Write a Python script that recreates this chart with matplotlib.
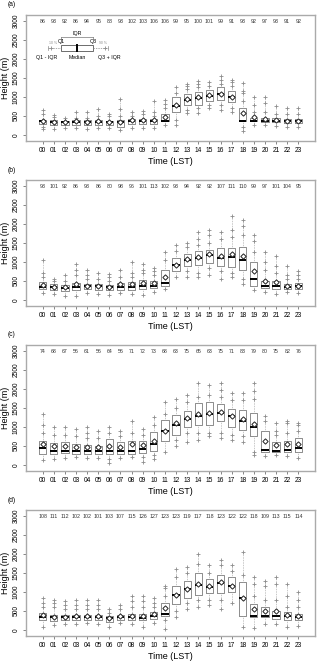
import numpy as np
import matplotlib
matplotlib.use("Agg")
import matplotlib.pyplot as plt

plt.rcParams["font.family"] = ["Liberation Sans", "DejaVu Sans"]

hours = ["%02d" % h for h in range(24)]

# pocty mereni nad kazdym boxem
counts_a = [86, 93, 92, 86, 94, 95, 88, 93, 102, 103, 106, 106, 99, 95, 100, 101, 99, 91, 93, 92, 97, 93, 91, 92]
counts_b = [93, 101, 92, 86, 93, 86, 80, 98, 96, 101, 113, 102, 93, 94, 92, 92, 107, 111, 110, 99, 97, 101, 104, 95]
counts_c = [74, 68, 67, 56, 61, 56, 64, 56, 71, 72, 73, 68, 63, 75, 65, 63, 75, 71, 83, 79, 80, 75, 82, 76]
counts_d = [108, 111, 112, 102, 102, 101, 103, 107, 115, 126, 127, 123, 123, 119, 117, 118, 123, 122, 122, 118, 109, 113, 115, 114]

# (a)
q1_a = [290, 260, 250, 260, 250, 260, 260, 220, 280, 290, 280, 370, 600, 780, 780, 900, 920, 880, 380, 370, 350, 330, 320, 320]
med_a = [370, 330, 330, 350, 340, 350, 340, 330, 380, 380, 370, 380, 770, 930, 980, 1020, 1080, 1010, 370, 380, 380, 370, 360, 370]
q3_a = [400, 390, 380, 400, 390, 390, 380, 400, 420, 420, 430, 560, 1000, 1080, 1130, 1180, 1250, 1150, 720, 450, 450, 440, 420, 430]
mean_a = [380, 340, 340, 360, 350, 360, 350, 340, 390, 390, 400, 470, 780, 940, 990, 1050, 1080, 1010, 580, 470, 420, 400, 370, 380]
plus_a = [[550, 650, 150, 220], [480, 530, 150], [450, 170], [440, 600, 180], [450, 600, 160], [500, 670, 170],
          [500, 560, 180], [500, 680, 950, 140], [500, 600, 180], [550, 620, 170], [500, 600, 900, 170],
          [700, 820, 920, 250], [1100, 1250, 250, 400], [1200, 1300, 1350, 580, 650], [1250, 1350, 1430, 580, 700],
          [1300, 1400, 700, 800], [1350, 1450, 1560, 650, 800], [1300, 1400, 1450, 600, 700],
          [900, 1100, 1150, 1380, 100, 200], [600, 800, 1000, 250], [600, 850, 1000, 250], [550, 750, 230],
          [550, 700, 200], [550, 700, 200]]

# (b)
q1_b = [280, 260, 240, 270, 280, 270, 250, 270, 270, 290, 320, 380, 750, 900, 920, 980, 900, 880, 780, 380, 320, 280, 280, 280]
med_b = [340, 340, 320, 340, 360, 360, 330, 350, 340, 380, 380, 450, 930, 1040, 1100, 1180, 1100, 1120, 1040, 560, 380, 380, 340, 360]
q3_b = [460, 420, 400, 450, 420, 410, 400, 450, 470, 530, 500, 800, 1100, 1200, 1300, 1320, 1380, 1380, 1400, 1000, 500, 490, 420, 440]
mean_b = [400, 350, 340, 420, 380, 370, 350, 420, 410, 440, 440, 600, 930, 1070, 1130, 1200, 1170, 1200, 1150, 760, 500, 470, 380, 380]
plus_b = [[600, 700, 1050, 180], [500, 550, 150], [500, 650, 100], [650, 780, 950, 100], [550, 650, 780, 180],
          [550, 700, 160], [500, 600, 680, 130], [600, 800, 180], [600, 700, 1000, 150], [700, 800, 950, 120],
          [650, 750, 850, 200], [1050, 1250, 280], [1300, 1450, 600], [1400, 1500, 600, 750],
          [1450, 1600, 1800, 600, 700], [1500, 1700, 1850, 650, 850], [1600, 1800, 550, 750],
          [1650, 1850, 2200, 600, 700], [1700, 1950, 2100, 420, 550], [1250, 1550, 1700, 250],
          [800, 1000, 1250, 200], [700, 900, 1150, 150], [550, 650, 900, 200], [550, 650, 750, 180]]

# (c)
q1_c = [300, 300, 310, 280, 300, 300, 300, 280, 300, 310, 380, 620, 800, 1000, 1050, 1050, 1150, 1000, 930, 750, 350, 330, 340, 340]
med_c = [440, 380, 380, 360, 380, 370, 370, 370, 380, 420, 560, 900, 1050, 1220, 1300, 1350, 1370, 1300, 1160, 1000, 400, 380, 390, 440]
q3_c = [620, 580, 600, 540, 520, 510, 680, 600, 640, 620, 860, 1180, 1320, 1430, 1620, 1650, 1600, 1480, 1440, 1360, 900, 600, 620, 710]
mean_c = [550, 500, 500, 480, 470, 470, 500, 480, 550, 520, 640, 900, 1100, 1240, 1330, 1380, 1390, 1300, 1200, 1090, 620, 520, 560, 550]
plus_c = [[850, 1050, 1350, 120], [800, 1000, 150], [800, 1000, 180], [750, 950, 200], [700, 850, 1000, 180],
          [700, 900, 180], [850, 1000, 50, 150], [750, 900, 180], [850, 1150, 200], [800, 950, 80, 200],
          [1050, 1250, 150, 250], [1350, 1650, 350], [1500, 1750, 500, 650], [1650, 1850, 600, 850],
          [1800, 2150, 650, 850], [1850, 2100, 750, 850], [1800, 1980, 2150, 700, 850], [1700, 1900, 650, 800],
          [1700, 1900, 600, 750], [1750, 1950, 2150, 250, 350], [1150, 1300, 230], [800, 900, 1100, 250],
          [850, 1100, 1150, 230], [900, 1050, 1100, 170]]

# (d)
q1_d = [250, 240, 250, 260, 260, 260, 220, 260, 260, 250, 290, 380, 690, 840, 920, 960, 980, 1000, 380, 340, 350, 300, 250, 260]
med_d = [350, 340, 330, 340, 340, 340, 310, 340, 340, 320, 370, 420, 920, 1080, 1180, 1130, 1240, 1150, 850, 370, 380, 380, 360, 350]
q3_d = [440, 400, 390, 400, 400, 400, 370, 400, 420, 430, 470, 720, 1160, 1290, 1500, 1340, 1450, 1400, 1270, 680, 600, 500, 460, 420]
mean_d = [400, 350, 350, 370, 360, 360, 320, 360, 370, 380, 430, 590, 930, 1090, 1200, 1170, 1250, 1150, 850, 550, 510, 500, 400, 380]
plus_d = [[600, 700, 850, 80], [600, 700, 800, 120], [550, 650, 750, 150], [550, 650, 800, 150], [550, 650, 800, 180],
          [550, 650, 800, 160], [450, 550, 80], [550, 650, 180], [600, 750, 900, 150], [600, 750, 900, 80],
          [600, 700, 850, 180], [900, 1100, 1150, 30, 250], [1400, 1600, 350, 500], [1500, 1650, 550, 700],
          [1750, 2000, 600, 800], [1500, 1700, 650, 800], [1700, 1850, 550, 800], [1550, 1700, 700],
          [1450, 2050, 80], [900, 1200, 1400, 50], [800, 1150, 1300, 150], [800, 1200, 1400, 150],
          [600, 900, 1200, 80], [600, 800, 1000, 100]]

panels = [("(a)", counts_a, q1_a, med_a, q3_a, mean_a, plus_a),
          ("(b)", counts_b, q1_b, med_b, q3_b, mean_b, plus_b),
          ("(c)", counts_c, q1_c, med_c, q3_c, mean_c, plus_c),
          ("(d)", counts_d, q1_d, med_d, q3_d, mean_d, plus_d)]

W, H = 320, 664
fig = plt.figure(figsize=(W / 100, H / 100), dpi=100)

gray = "#8c8c8c"
pos = np.arange(1, 25)

for i, (lab, cnt, q1, med, q3, mean, plus) in enumerate(panels):
    top = 15 + 165 * i
    ax = fig.add_axes([26 / W, 1 - (top + 126) / H, 289 / W, 126 / H])
    stats = []
    for k in range(24):
        # teckovane fousy az k poslednimu krizku
        stats.append(dict(med=med[k], q1=q1[k], q3=q3[k],
                          whislo=min(plus[k] + [q1[k]]), whishi=max(plus[k] + [q3[k]]),
                          mean=mean[k], fliers=plus[k]))
    ax.bxp(stats, positions=pos, widths=0.65, showmeans=True, showcaps=False,
           boxprops=dict(color=gray, lw=0.7),
           whiskerprops=dict(color="#a0a0a0", lw=0.6, ls=(0, (0.8, 1.2))),
           medianprops=dict(color="black", lw=1.4),
           meanprops=dict(marker="D", markersize=2.7, markerfacecolor="white",
                          markeredgecolor="#222222", markeredgewidth=0.7),
           flierprops=dict(marker="+", markersize=3.5, markeredgecolor=gray, markeredgewidth=0.6))
    for k in range(24):
        ax.text(pos[k], 3000, str(cnt[k]), ha="center", va="center", fontsize=3.8, color="#333333")
    ax.set_xlim(-0.5, 25.5)
    ax.set_ylim(-160, 3160)
    ax.set_xticks(pos)
    ax.set_xticklabels(hours, fontsize=4.8)
    ax.set_yticks(range(0, 3001, 500))
    ax.set_yticklabels([str(v) for v in range(0, 3001, 500)], fontsize=4.8, rotation=90, va="center")
    ax.tick_params(length=2.5, width=0.5, color="#555555", pad=2)
    for s in ax.spines.values():
        s.set_color("#aaaaaa")
        s.set_linewidth(1.0)
    ax.set_xlabel("Time (LST)", fontsize=6.5, labelpad=2)
    ax.set_ylabel("Height (m)", fontsize=6.5, labelpad=2)
    fig.text(8 / W, 1 - (top - 10) / H, lab, fontsize=4.8, va="center", ha="left")

    if i == 0:
        # vlozena legenda
        bx0, bx1, bm, yc = 2.65, 5.53, 4.09, 2290
        ax.add_patch(plt.Rectangle((bx0, 2210), bx1 - bx0, 160, fill=False, ec="#555555", lw=0.6))
        ax.plot([bm, bm], [2210, 2370], color="black", lw=1.4)
        ax.plot([1.45, bx0], [yc, yc], color=gray, lw=0.5, ls=(0, (2, 1.5)))
        ax.plot([bx1, 6.9], [yc, yc], color=gray, lw=0.5, ls=(0, (2, 1.5)))
        ax.plot([1.45, 1.45], [yc - 50, yc + 50], color=gray, lw=0.5)
        ax.plot([6.9, 6.9], [yc - 50, yc + 50], color=gray, lw=0.5)
        ax.plot([1.75, 6.6], [yc, yc], ls="none", marker="+", ms=3.5, mec=gray, mew=0.6)
        ax.plot([bx0, bx1], [2590, 2590], color="#777777", lw=0.5)
        ax.plot([bx0, bx0], [2540, 2590], color="#777777", lw=0.5)
        ax.plot([bx1, bx1], [2540, 2590], color="#777777", lw=0.5)
        ax.text(bm, 2670, "IQR", fontsize=3.8, ha="center", va="center")
        ax.text(bx0, 2470, "Q1", fontsize=3.8, ha="center", va="center")
        ax.text(bx1, 2470, "Q3", fontsize=3.8, ha="center", va="center")
        ax.text(1.9, 2420, "10 %", fontsize=2.5, ha="center", va="center", color=gray)
        ax.text(6.4, 2420, "90 %", fontsize=2.5, ha="center", va="center", color=gray)
        ax.text(1.4, 2030, "Q1 - IQR", fontsize=3.8, ha="center", va="center")
        ax.text(bm, 2030, "Median", fontsize=3.8, ha="center", va="center")
        ax.text(7.0, 2030, "Q3 + IQR", fontsize=3.8, ha="center", va="center")

fig.savefig("out.png", dpi=100)
